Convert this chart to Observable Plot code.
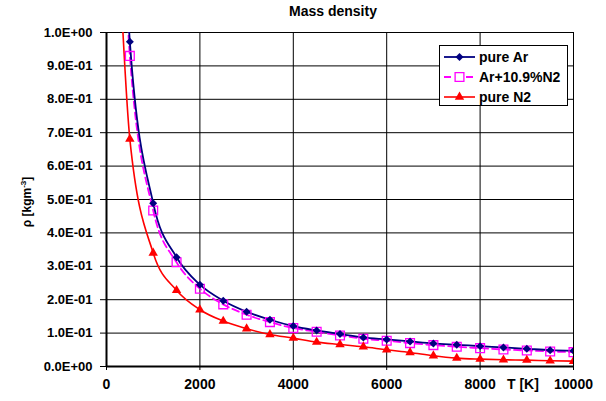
<!DOCTYPE html>
<html><head><meta charset="utf-8">
<script src="https://cdn.jsdelivr.net/npm/d3@7"></script>
<script src="https://cdn.jsdelivr.net/npm/@observablehq/plot@0.6"></script>
<style>
body{margin:0;background:#fff;font-family:"Liberation Sans",Arial,sans-serif;}
#wrap{position:relative;width:606px;height:401px;overflow:hidden;}
.lbl{position:absolute;font-weight:bold;white-space:nowrap;color:#000;}
#title{left:233px;width:200px;top:3px;text-align:center;font-size:14px;}
#xlabel{left:507px;top:376px;font-size:14px;}
#ylabel{left:26px;top:202px;font-size:12px;transform:translate(-50%,-50%) rotate(-90deg);transform-origin:center;}
#ylabel sup{font-size:8px;vertical-align:5px;}
#legend{position:absolute;left:439px;top:45px;width:127px;height:59px;border:1px solid #000;background:#fff;}
</style>
</head><body>
<div id="wrap">
  <div id="chart"></div>
  <div id="title" class="lbl">Mass density</div>
  <div id="xlabel" class="lbl">T [K]</div>
  <div id="ylabel" class="lbl">ρ [kgm<sup>-3</sup>]</div>
  <div id="legend"></div>
</div>
<script>
const T = [300, 500, 1000, 1500, 2000, 2500, 3000, 3500, 4000, 4500, 5000, 5500, 6000, 6500, 7000, 7500, 8000, 8500, 9000, 9500, 10000];
const rhoAr  = [1.62, 0.972, 0.489, 0.327, 0.245, 0.197, 0.164, 0.140, 0.121, 0.108, 0.097, 0.087, 0.081, 0.075, 0.069, 0.065, 0.061, 0.057, 0.053, 0.049, 0.047];
const rhoMix = [1.55, 0.930, 0.467, 0.312, 0.233, 0.186, 0.155, 0.133, 0.115, 0.104, 0.093, 0.083, 0.077, 0.070, 0.064, 0.059, 0.055, 0.051, 0.048, 0.045, 0.043];
const rhoN2  = [1.14, 0.681, 0.340, 0.228, 0.170, 0.136, 0.113, 0.096, 0.085, 0.073, 0.066, 0.059, 0.050, 0.042, 0.032, 0.025, 0.022, 0.020, 0.019, 0.017, 0.016];
const seriesNames = ["pure Ar", "Ar+10.9%N2", "pure N2"];
const xTicks = [0, 2000, 4000, 6000, 8000, 10000];
const xTickLabels = ["0", "2000", "4000", "6000", "8000", "10000"];
const yTicks = [0, 0.1, 0.2, 0.3, 0.4, 0.5, 0.6, 0.7, 0.8, 0.9, 1.0];
const yTickLabels = ["0.0E+00","1.0E-01","2.0E-01","3.0E-01","4.0E-01","5.0E-01","6.0E-01","7.0E-01","8.0E-01","9.0E-01","1.0E+00"];

const styles = [
  {color: "#000080", dash: null, symbol: "diamond2", fill: "#000080", r: 3.6, sw: 1.8},
  {color: "#FF00FF", dash: "7,4", symbol: "square2", fill: "none", r: 5.6, sw: 1.8},
  {color: "#FF0000", dash: null, symbol: "triangle", fill: "#FF0000", r: 3.5, sw: 1.6}
];
const values = [rhoAr, rhoMix, rhoN2];
const rows = values.map(v => T.map((t, i) => ({T: t, rho: v[i]})));

const marks = [
  Plot.ruleY(yTicks.slice(1), {stroke: "#000", strokeWidth: 1}),
  Plot.ruleX(xTicks.slice(1), {stroke: "#000", strokeWidth: 1})
];
[1, 0, 2].forEach(k => {
  const s = styles[k];
  marks.push(Plot.line(rows[k], {x: "T", y: "rho", stroke: s.color, strokeWidth: s.sw, strokeDasharray: s.dash, curve: "monotone-x", clip: true}));
});
[1, 0, 2].forEach(k => {
  const s = styles[k];
  marks.push(Plot.dot(rows[k], {x: "T", y: "rho", symbol: s.symbol, r: s.r, fill: s.fill, stroke: s.fill === "none" ? s.color : "none", strokeWidth: 1.3, clip: true}));
});
marks.push(
  Plot.axisY({ticks: yTicks, tickFormat: d => yTickLabels[yTicks.indexOf(d)], tickSize: 6, tickPadding: 8, fontSize: 13, fontWeight: "bold", label: null, stroke: "#000"}),
  Plot.axisX({ticks: xTicks, tickFormat: d => xTickLabels[xTicks.indexOf(d)], tickSize: 4, tickPadding: 9, fontSize: 14, fontWeight: "bold", label: null, stroke: "#000"}),
  Plot.ruleX([0], {stroke: "#000", strokeWidth: 2}),
  Plot.ruleY([0], {stroke: "#000", strokeWidth: 2})
);

const chart = Plot.plot({
  width: 606, height: 401,
  marginLeft: 106, marginRight: 33, marginTop: 32, marginBottom: 35,
  x: {domain: [0, 10000]},
  y: {domain: [0, 1]},
  style: {fontFamily: "'Liberation Sans', Arial, sans-serif", background: "white", color: "#000"},
  marks
});
document.getElementById("chart").appendChild(chart);

// legend
const lg = d3.select("#legend").append("svg").attr("width", 127).attr("height", 59);
seriesNames.forEach((name, k) => {
  const s = styles[k];
  const y = 11 + k * 20;
  const g = lg.append("g").attr("transform", `translate(0,${y})`);
  g.append("line").attr("x1", 4).attr("x2", 35).attr("y1", 0).attr("y2", 0)
    .attr("stroke", s.color).attr("stroke-width", s.sw).attr("stroke-dasharray", s.dash);
  const sym = {diamond2: d3.symbolDiamond2, square2: d3.symbolSquare2, triangle: d3.symbolTriangle}[s.symbol];
  g.append("path").attr("transform", "translate(19.5,0)")
    .attr("d", d3.symbol(sym, Math.PI * s.r * s.r)())
    .attr("fill", s.fill === "none" ? "#fff" : s.fill)
    .attr("stroke", s.fill === "none" ? s.color : "none").attr("stroke-width", 1.3);
  g.append("text").attr("x", 39).attr("y", 5).text(name)
    .attr("font-family", "'Liberation Sans', Arial, sans-serif").attr("font-weight", "bold").attr("font-size", 14);
});
</script>
</body></html>
